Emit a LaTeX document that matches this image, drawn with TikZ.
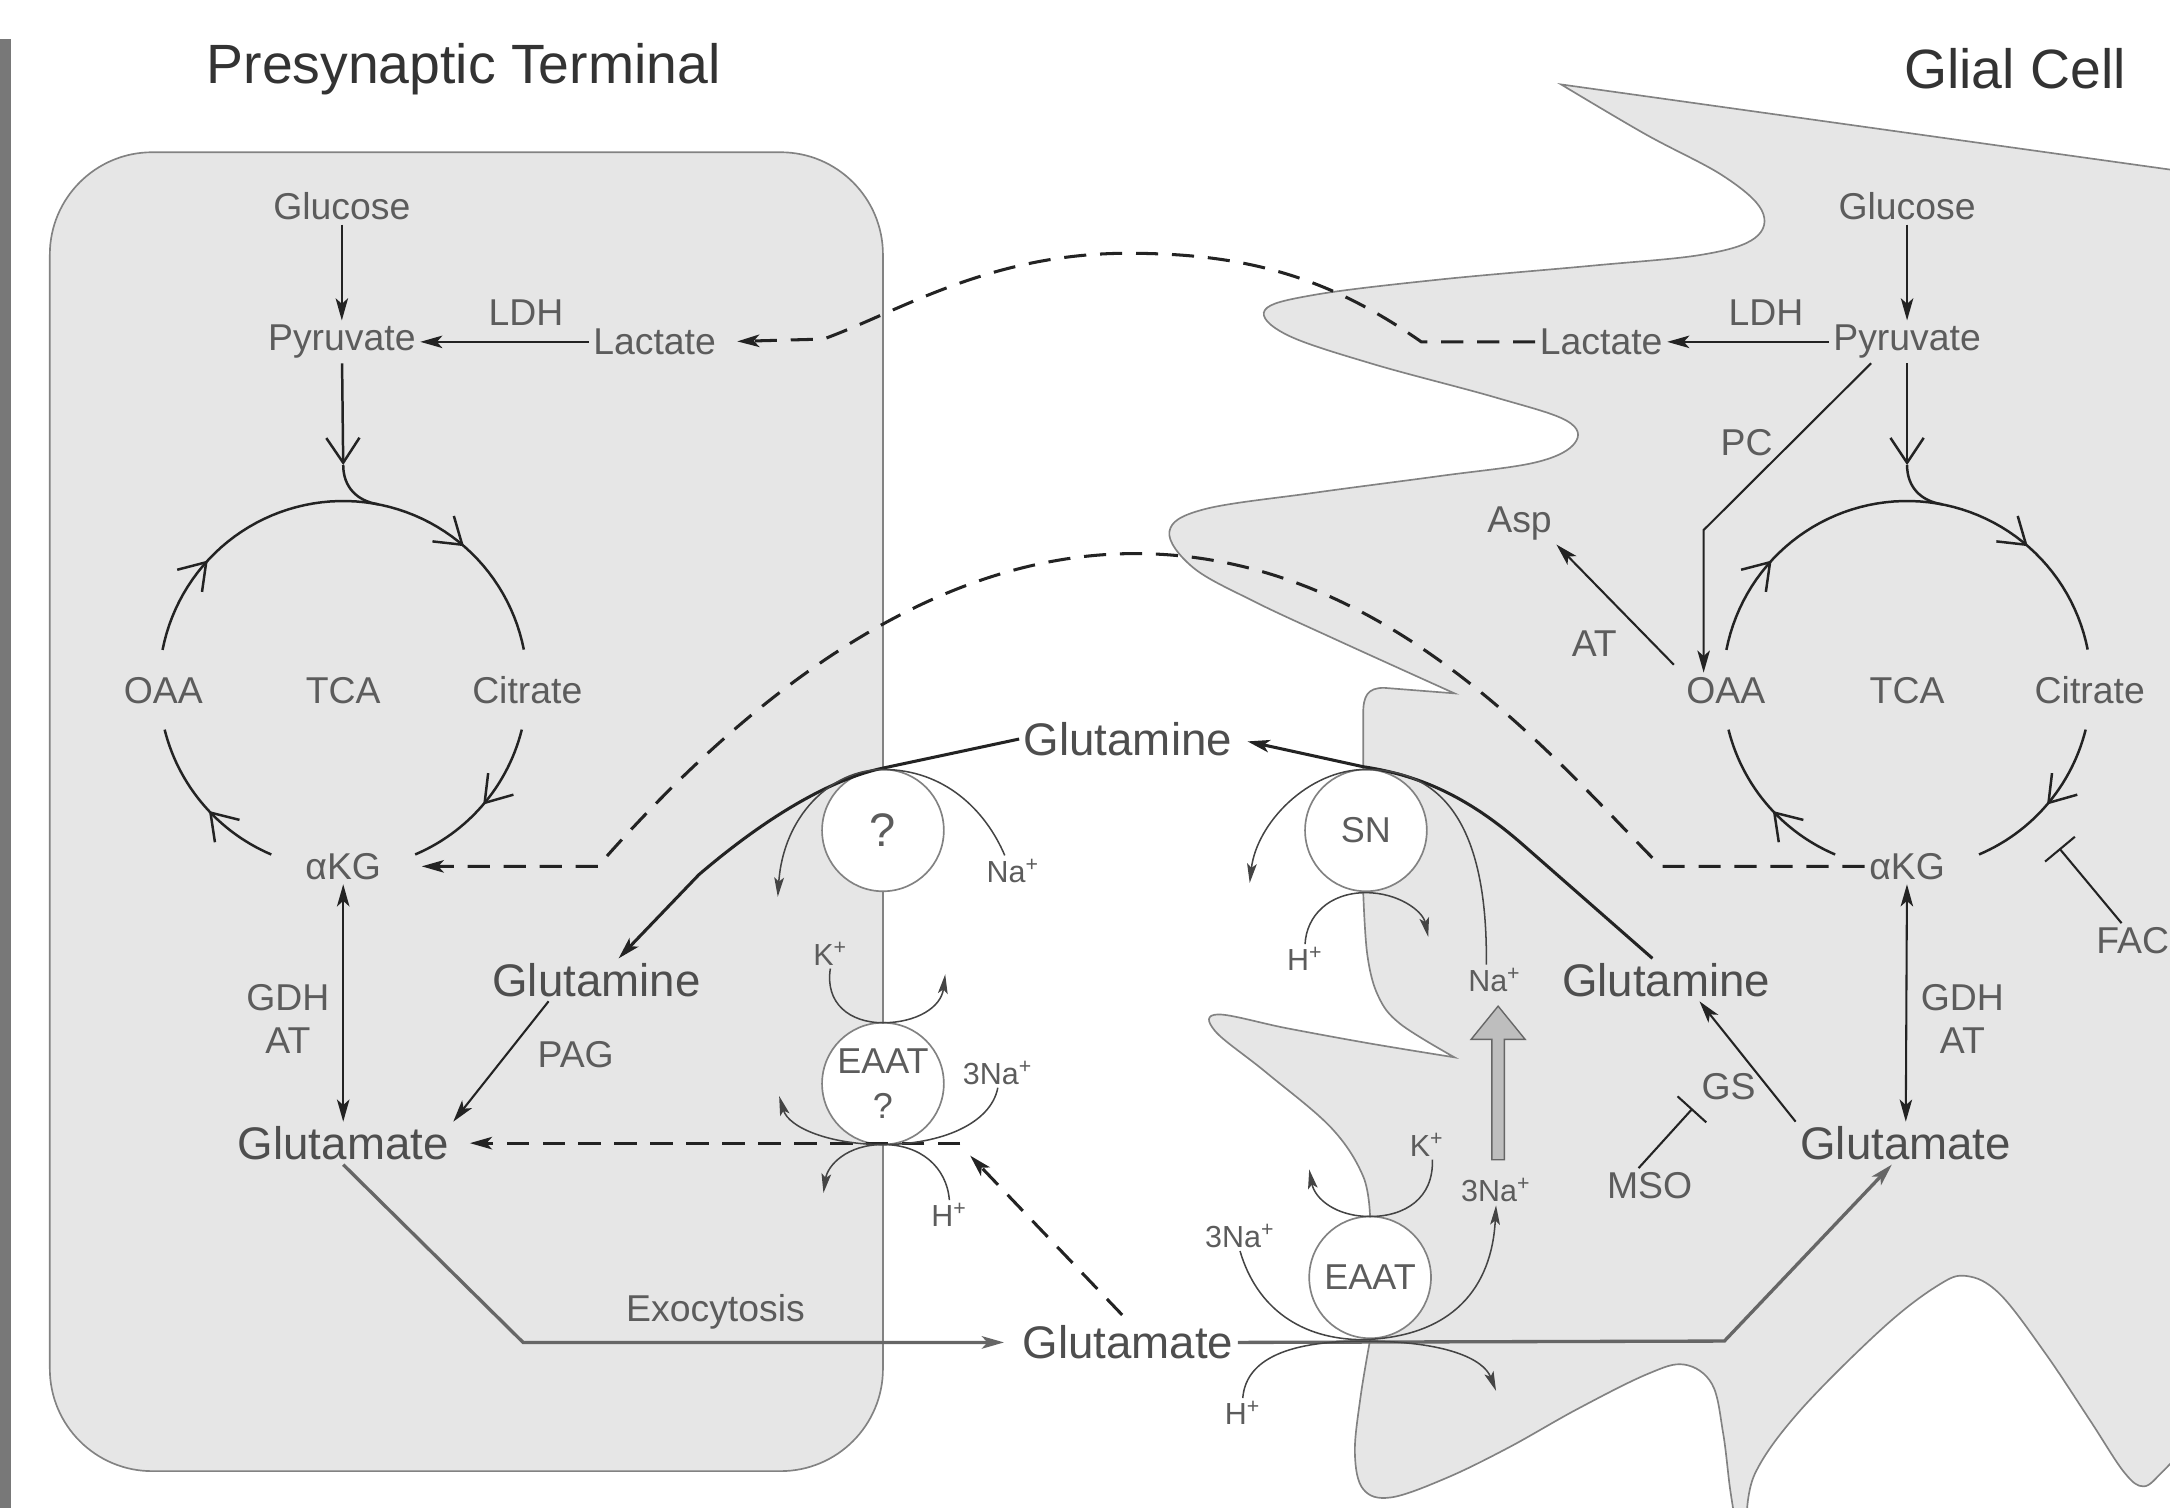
\documentclass[tikz,border=0pt]{standalone}
\usepackage{fontspec}
\setmainfont{Liberation Sans}
\usetikzlibrary{arrows.meta, positioning, calc, decorations.markings}
\definecolor{cellfill}{RGB}{230,230,230}
\definecolor{membranegray}{RGB}{130,130,130}
\definecolor{labelgray}{RGB}{92,92,92}
\definecolor{linedark}{RGB}{35,35,35}
\definecolor{bargray}{RGB}{120,120,120}
\definecolor{blockgray}{RGB}{190,190,190}

\tikzset{
  tipV/.tip={Straight Barb[length=9pt,width=12pt]},
  tipS/.tip={Stealth[length=8pt,width=4.5pt,inset=2pt]},
  lbl/.style={font=\fontsize{13.5}{15.5}\selectfont, text=labelgray, inner sep=1.5pt},
  big/.style={font=\fontsize{16.5}{18}\selectfont, text=labelgray!85!black, inner sep=1.5pt},
  ion/.style={font=\fontsize{11}{12}\selectfont, text=labelgray, inner sep=1pt},
  ttl/.style={font=\fontsize{20}{22}\selectfont, text=black!80},
  porter/.style={circle, draw=membranegray, fill=white, line width=0.6pt,
    minimum size=44pt, inner sep=0pt, align=center,
    font=\fontsize{13}{16.5}\selectfont, text=labelgray},
  cyc/.style={draw=linedark, line width=0.9pt},
  arr/.style={draw=linedark, line width=0.75pt, -{tipS}},
  dbl/.style={draw=linedark, line width=0.75pt, {tipS}-{tipS}},
  flux/.style={draw=linedark, line width=1.1pt, -{tipS}},
  gline/.style={draw=black!60, line width=1.2pt, -{tipS}},
  dsh/.style={draw=linedark, line width=1.1pt, dash pattern=on 8pt off 5pt, -{tipS}},
  ionarr/.style={draw=linedark!85, line width=0.55pt, -{Stealth[length=7pt,width=3.5pt,inset=1.5pt]}},
  inh/.style={draw=linedark, line width=0.75pt, -{Bar[width=14pt]}},
  membrane/.style={draw=membranegray, line width=0.6pt, fill=cellfill},
  blockarr/.style={draw=black!60, fill=blockgray, line width=0.5pt},
  onemark/.style={postaction={decorate}, decoration={markings,
    mark=at position #1 with {\arrow{tipV}}}},
  twomark/.style 2 args={postaction={decorate}, decoration={markings,
    mark=at position #1 with {\arrow{tipV}}, mark=at position #2 with {\arrow{tipV}}}}
}

\begin{document}
\begin{tikzpicture}[x=0.5pt, y=-0.5pt]
  \useasboundingbox (0,0) rectangle (1568,1089);
  \clip (0,0) rectangle (1568,1089);

  % Page bar and presynaptic terminal
  \fill[bargray] (0,28) rectangle (8,1100);
  \draw[membrane, rounded corners=37pt] (36,110) rectangle (638,1063);

  % Glial cell outline
  \draw[membrane] (1600,127) -- (1128,61)
    -- plot[smooth, tension=0.6] coordinates {(1128,61) (1189,97) (1245,127) (1273,152) (1268,172) (1230,184) (1150,192) (1040,202) (950,213) (914,224) (930,242) (992,263) (1080,287) (1132,304) (1138,320) (1110,334) (1040,344) (950,356) (870,368) (845,384) (862,410) (905,434) (965,462) (1051,501)}
    -- (1000,497) .. controls (988,497) and (985,503) .. (985,516) -- (985,644)
    -- plot[smooth, tension=0.6] coordinates {(985,644) (988,690) (996,720) (1012,740) (1051,764)}
    -- plot[smooth, tension=0.6] coordinates {(1051,764) (990,754) (930,743) (880,733) (878,745) (915,775) (962,815) (985,850) (990,880)}
    -- (990,968)
    -- plot[smooth, tension=0.6] coordinates {(990,968) (983,1010) (979,1050) (985,1076) (1005,1082) (1045,1068) (1090,1046) (1140,1018) (1190,993) (1217,986) (1237,1000) (1245,1035) (1250,1075) (1254,1100)}
    -- plot[smooth, tension=0.6] coordinates {(1262,1100) (1268,1065) (1300,1020) (1360,960) (1400,929) (1421,922) (1445,935) (1478,978) (1510,1026) (1535,1064) (1549,1074) (1562,1064) (1575,1050)}
    -- (1600,1045) -- cycle;

  % Titles
  \node[ttl] (preT) at (335,50) {Presynaptic Terminal};
  \node[ttl] (gliT) at (1456,50) {Glial Cell};

  % Presynaptic metabolism
  \node[lbl] (glcN) at (247,149) {Glucose};
  \node[lbl] (pyrN) at (247,247) {Pyruvate};
  \node[lbl] (lacN) at (473,247) {Lactate};
  \node[lbl] (ldhN) at (380,226) {LDH};
  \node[lbl] (oaaN) at (118,499) {OAA};
  \node[lbl] (tcaN) at (248,499) {TCA};
  \node[lbl] (citN) at (381,499) {Citrate};
  \node[lbl] (akgN) at (248,626) {αKG};
  \node[lbl, align=center] (gdhN) at (208,736) {GDH\\AT};
  \node[big] (gluN) at (248,826) {Glutamate};
  \node[big] (glnN) at (431,708) {Glutamine};
  \node[lbl] (pagN) at (416,762) {PAG};
  \node[lbl] (exoN) at (517,948) {Exocytosis};

  % Glial metabolism
  \node[lbl] (glcG) at (1378,149) {Glucose};
  \node[lbl] (pyrG) at (1378,247) {Pyruvate};
  \node[lbl] (lacG) at (1157,247) {Lactate};
  \node[lbl] (ldhG) at (1276,226) {LDH};
  \node[lbl] (oaaG) at (1247,499) {OAA};
  \node[lbl] (tcaG) at (1378,499) {TCA};
  \node[lbl] (citG) at (1510,499) {Citrate};
  \node[lbl] (akgG) at (1378,626) {αKG};
  \node[lbl] (pcG) at (1262,320) {PC};
  \node[lbl] (aspG) at (1098,378) {Asp};
  \node[lbl] (atG) at (1152,465) {AT};
  \node[lbl, align=center] (gdhG) at (1418,736) {GDH\\AT};
  \node[big] (gluG) at (1377,826) {Glutamate};
  \node[big] (glnG) at (1204,708) {Glutamine};
  \node[lbl] (gsG) at (1249,785) {GS};
  \node[lbl] (msoG) at (1192,857) {MSO};
  \node[lbl] (facG) at (1541,680) {FAC};

  % Synaptic cleft
  \node[big] (glnC) at (815,534) {Glutamine};
  \node[big] (gluC) at (815,970) {Glutamate};

  % Transporters
  \node[porter, font=\fontsize{17}{18}\selectfont] (qT) at (638,600) {?};
  \node[porter] (eaN) at (638,783) {EAAT\\?};
  \node[porter] (snT) at (987,600) {SN};
  \node[porter] (eaG) at (990,923) {EAAT};

  % Ions
  \node[ion] (naA) at (732,629) {Na\textsuperscript{+}};
  \node[ion] (kA) at (600,689) {K\textsuperscript{+}};
  \node[ion] (naB) at (721,775) {3Na\textsuperscript{+}};
  \node[ion] (hA) at (686,878) {H\textsuperscript{+}};
  \node[ion] (hB) at (943,693) {H\textsuperscript{+}};
  \node[ion] (naC) at (1080,708) {Na\textsuperscript{+}};
  \node[ion] (kB) at (1031,827) {K\textsuperscript{+}};
  \node[ion] (naD) at (896,893) {3Na\textsuperscript{+}};
  \node[ion] (naE) at (1081,860) {3Na\textsuperscript{+}};
  \node[ion] (hC) at (898,1021) {H\textsuperscript{+}};

  % Free ends and bends
  \coordinate (naAe) at (562,648);
  \coordinate (kAe) at (683,704);
  \coordinate (naBe) at (563,792);
  \coordinate (hAe) at (595,862);
  \coordinate (snLe) at (903,638);
  \coordinate (snRe) at (1032,677);
  \coordinate (kBe) at (946,845);
  \coordinate (hCe) at (1081,1005);
  \coordinate (eaT) at (701,835);
  \coordinate (eaR) at (694,826);
  \coordinate (exoB) at (378,970);
  \coordinate (upB) at (1246,969);
  \coordinate (pcB) at (1231,383);
  \coordinate (msoT) at (1223,801);
  \coordinate (facT) at (1488,613);

  % TCA cycles (clockwise, open barbs)
  \foreach \cx/\cn in {248/N, 1378/G} {
    \draw[cyc, twomark={0.2}{0.76}] plot[domain=0:1, samples=60, variable=\t]
      ({\cx+133*cos(169-158*\t)}, {495-133*sin(169-158*\t)});
    \draw[cyc, onemark=0.5] plot[domain=0:1, samples=30, variable=\t]
      ({\cx+133*cos(-14-53*\t)}, {495-133*sin(-14-53*\t)});
    \draw[cyc, onemark=0.45] plot[domain=0:1, samples=30, variable=\t]
      ({\cx+133*cos(-113-53*\t)}, {495-133*sin(-113-53*\t)});
    \draw[cyc, -{tipV}] (pyr\cn) -- (\cx,336);
    \draw[cyc] (\cx,336) .. controls (\cx,352) and (\cx+10,362) .. (\cx+25.4,364.4);
  }

  % Metabolic arrows
  \draw[arr] (glcN) -- (pyrN);
  \draw[arr] (lacN) -- (pyrN);
  \draw[dbl] (akgN) -- (gluN);
  \draw[arr] ([xshift=22pt]glnN.south west) -- (gluN.north east);
  \draw[arr] (glcG) -- (pyrG);
  \draw[arr] (pyrG) -- (lacG);
  \draw[arr] ([xshift=-13pt]pyrG.south) -- (pcB) -- (pcB |- oaaG.north);
  \draw[arr, shorten <=4pt] (oaaG.north west) -- (aspG.south east);
  \draw[dbl] (akgG) -- (gluG);
  \draw[arr] (gluG.north west) -- ([xshift=12pt]glnG.south);
  \draw[inh] ([xshift=-4pt]msoG.north) -- (msoT);
  \draw[inh] ([xshift=-4pt]facG.north) -- (facT);

  % Glutamate release and uptake
  \draw[gline, shorten >=5pt] (gluN.south) -- (exoB) -- (gluC.west);
  \draw[gline] (gluC.east) -- (upB) -- ([xshift=-5pt]gluG.south);

  % Glutamine shuttle
  \draw[flux, shorten >=4pt] ([xshift=-5pt]glnG.north) -- (1100,610)
    .. controls (1060,575) and (1025,560) .. (985,554) -- (glnC.east);
  \draw[flux] (glnC.west) -- (638,555)
    .. controls (605,562) and (560,585) .. (505,632) -- ([xshift=8pt]glnN.north);

  % Dashed exchanges
  \draw[dsh, shorten >=6pt] (lacG.west) -- (1027,247)
    .. controls (960,200) and (900,183) .. (815,183)
    .. controls (715,183) and (650,225) .. (595,245) -- (lacN.east);
  \draw[dsh, shorten >=13pt] (akgG.west) -- (1200,626)
    .. controls (1120,545) and (1000,400) .. (820,400)
    .. controls (690,400) and (560,480) .. (432,626) -- (akgN.east);
  \draw[dsh, shorten <=3pt] (gluC.north) -- (eaT);
  \draw[dsh, shorten >=6pt] (eaR) -- (gluN.east);

  % Ion fluxes, presynaptic side
  \draw[ionarr] ([xshift=-3pt]naA.north) .. controls (712,585) and (682,556) .. (638,556)
    .. controls (600,556) and (566,590) .. (naAe);
  \draw[ionarr] (kA.south) .. controls (596,725) and (614,739) .. (638,739)
    .. controls (662,739) and (680,728) .. (kAe);
  \draw[ionarr] (naB.south) .. controls (716,812) and (680,827) .. (638,827)
    .. controls (600,827) and (570,815) .. (naBe);
  \draw[ionarr] (hA.north) .. controls (684,843) and (665,827) .. (638,827)
    .. controls (612,827) and (598,842) .. (hAe);

  % Ion fluxes, glial side
  \draw[ionarr] ([xshift=-3pt]naC.north) .. controls (1075,600) and (1045,556) .. (987,556)
    .. controls (945,556) and (908,595) .. (snLe);
  \draw[ionarr] (hB.north) .. controls (944,662) and (960,645) .. (987,645)
    .. controls (1010,645) and (1028,658) .. (snRe);
  \draw[ionarr] ([xshift=2pt]kB.south) .. controls (1036,866) and (1015,879) .. (990,879)
    .. controls (965,879) and (950,866) .. (kBe);
  \draw[ionarr] (naD.south) .. controls (908,945) and (940,968) .. (985,968)
    .. controls (1050,966) and (1078,930) .. (naE.south);
  \draw[ionarr] (hC.north) .. controls (900,985) and (925,969) .. (985,969)
    .. controls (1045,969) and (1072,982) .. (hCe);

  % Sodium gradient
  \filldraw[blockarr] (1078,838) -- (1078,751) -- (1063,751) -- (1082.5,727)
    -- (1102,751) -- (1087,751) -- (1087,838) -- cycle;
\end{tikzpicture}
\end{document}
